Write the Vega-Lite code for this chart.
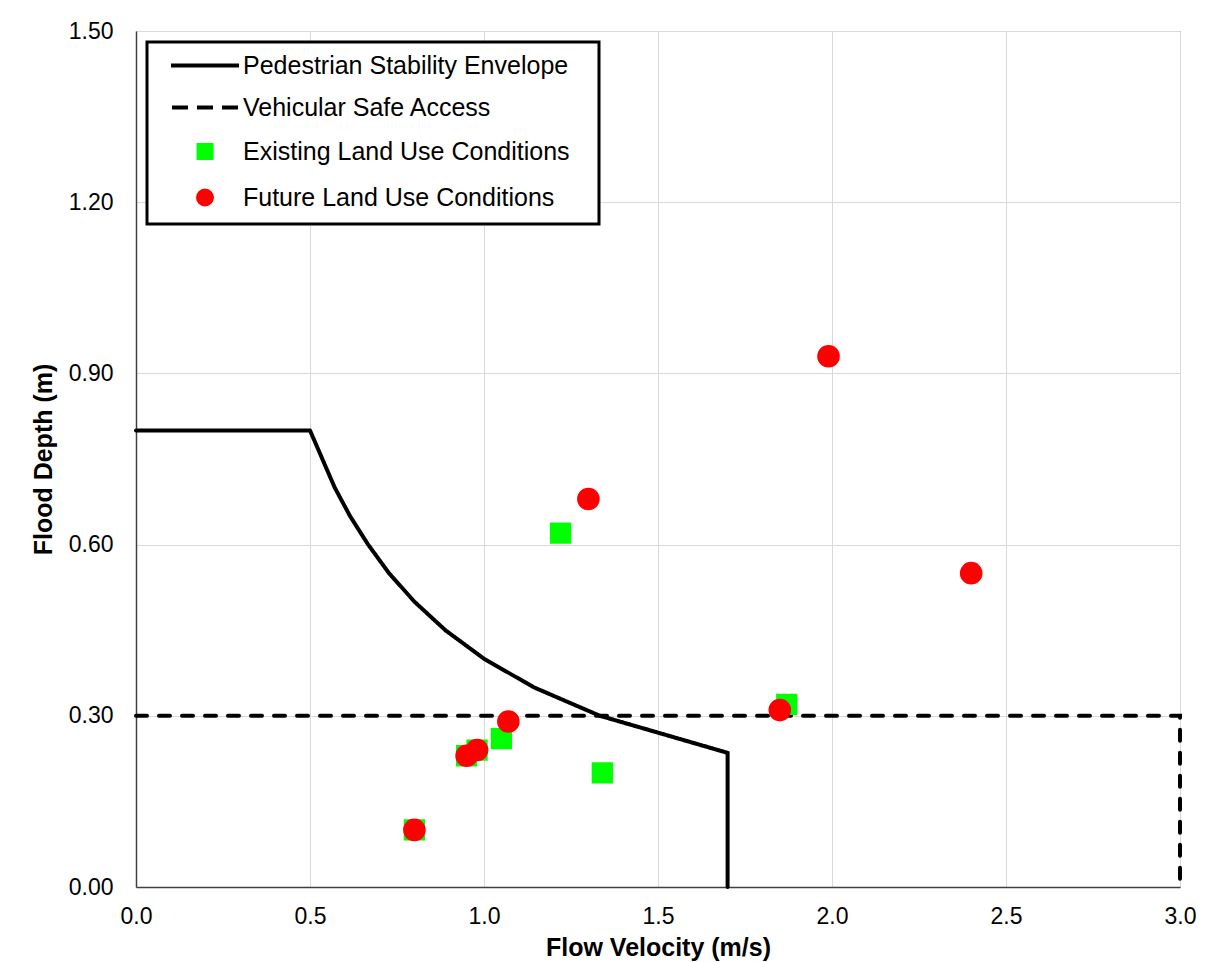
{
  "$schema": "https://vega.github.io/schema/vega-lite/v6.json",
  "width": 1044,
  "height": 856,
  "autosize": {"type": "none"},
  "padding": {"left": 136, "top": 31, "right": 42, "bottom": 75},
  "background": "white",
  "config": {
    "font": "Liberation Sans",
    "view": {"stroke": "#8c8c8c", "strokeWidth": 1},
    "axis": {
      "gridColor": "#d9d9d9",
      "gridWidth": 1,
      "ticks": false,
      "labelFlush": false,
      "labelFont": "Liberation Sans",
      "labelFontSize": 23,
      "labelColor": "black",
      "titleFont": "Liberation Sans",
      "titleFontSize": 25,
      "titleFontWeight": "bold",
      "titleColor": "black",
      "domainColor": "#404040",
      "domainWidth": 1.5
    },
    "legend": {"strokeWidth": 3}
  },
  "datasets": {
    "lines": [
      {"series": "Pedestrian Stability Envelope", "o": 1, "v": 0.0, "d": 0.8},
      {"series": "Pedestrian Stability Envelope", "o": 2, "v": 0.5, "d": 0.8},
      {"series": "Pedestrian Stability Envelope", "o": 3, "v": 0.571, "d": 0.7},
      {"series": "Pedestrian Stability Envelope", "o": 4, "v": 0.615, "d": 0.65},
      {"series": "Pedestrian Stability Envelope", "o": 5, "v": 0.667, "d": 0.6},
      {"series": "Pedestrian Stability Envelope", "o": 6, "v": 0.727, "d": 0.55},
      {"series": "Pedestrian Stability Envelope", "o": 7, "v": 0.8, "d": 0.5},
      {"series": "Pedestrian Stability Envelope", "o": 8, "v": 0.889, "d": 0.45},
      {"series": "Pedestrian Stability Envelope", "o": 9, "v": 1.0, "d": 0.4},
      {"series": "Pedestrian Stability Envelope", "o": 10, "v": 1.143, "d": 0.35},
      {"series": "Pedestrian Stability Envelope", "o": 11, "v": 1.333, "d": 0.3},
      {"series": "Pedestrian Stability Envelope", "o": 12, "v": 1.7, "d": 0.235},
      {"series": "Pedestrian Stability Envelope", "o": 13, "v": 1.7, "d": 0.0},
      {"series": "Vehicular Safe Access", "o": 1, "v": 0.0, "d": 0.3},
      {"series": "Vehicular Safe Access", "o": 2, "v": 3.0, "d": 0.3},
      {"series": "Vehicular Safe Access", "o": 3, "v": 3.0, "d": 0.0}
    ],
    "points": [
      {"series": "Existing Land Use Conditions", "v": 0.80, "d": 0.10},
      {"series": "Existing Land Use Conditions", "v": 0.95, "d": 0.23},
      {"series": "Existing Land Use Conditions", "v": 0.98, "d": 0.24},
      {"series": "Existing Land Use Conditions", "v": 1.05, "d": 0.26},
      {"series": "Existing Land Use Conditions", "v": 1.22, "d": 0.62},
      {"series": "Existing Land Use Conditions", "v": 1.34, "d": 0.20},
      {"series": "Existing Land Use Conditions", "v": 1.87, "d": 0.32},
      {"series": "Future Land Use Conditions", "v": 0.80, "d": 0.10},
      {"series": "Future Land Use Conditions", "v": 0.95, "d": 0.23},
      {"series": "Future Land Use Conditions", "v": 0.98, "d": 0.24},
      {"series": "Future Land Use Conditions", "v": 1.07, "d": 0.29},
      {"series": "Future Land Use Conditions", "v": 1.30, "d": 0.68},
      {"series": "Future Land Use Conditions", "v": 1.85, "d": 0.31},
      {"series": "Future Land Use Conditions", "v": 1.99, "d": 0.93},
      {"series": "Future Land Use Conditions", "v": 2.40, "d": 0.55}
    ]
  },
  "encoding": {
    "x": {
      "field": "v",
      "type": "quantitative",
      "title": "Flow Velocity (m/s)",
      "scale": {"domain": [0, 3], "nice": false, "zero": false},
      "axis": {"values": [0, 0.5, 1, 1.5, 2, 2.5, 3], "format": ".1f", "labelPadding": 18, "titlePadding": 7}
    },
    "y": {
      "field": "d",
      "type": "quantitative",
      "title": "Flood Depth (m)",
      "scale": {"domain": [0, 1.5], "nice": false, "zero": false},
      "axis": {"values": [0, 0.3, 0.6, 0.9, 1.2, 1.5], "format": ".2f", "labelPadding": 23, "titlePadding": 12}
    }
  },
  "layer": [
    {
      "data": {"name": "lines"},
      "mark": {"type": "line", "color": "black", "strokeWidth": 4, "strokeCap": "round", "clip": false},
      "encoding": {
        "strokeDash": {
          "field": "series",
          "type": "nominal",
          "scale": {"domain": ["Pedestrian Stability Envelope", "Vehicular Safe Access"], "range": [[1, 0], [11, 12]]},
          "legend": null
        },
        "order": {"field": "o", "type": "quantitative"}
      }
    },
    {
      "data": {"name": "points"},
      "mark": {"type": "point", "filled": true, "size": 177, "opacity": 1, "strokeWidth": 4},
      "encoding": {
        "color": {
          "field": "series",
          "type": "nominal",
          "scale": {
            "domain": ["Pedestrian Stability Envelope", "Vehicular Safe Access", "Existing Land Use Conditions", "Future Land Use Conditions"],
            "range": ["#000000", "#000000", "#00ff00", "#ff0000"]
          },
          "legend": {
            "orient": "none",
            "legendX": 11,
            "legendY": 11,
            "title": null,
            "labelFont": "Liberation Sans",
            "labelFontSize": 25,
            "labelColor": "black",
            "labelExpr": "datum.label + '\u2800'",
            "labelOffset": 25.5,
            "labelLimit": 700,
            "symbolSize": 100,
            "symbolOffset": 34.5,
            "symbolStrokeWidth": 4,
            "symbolOpacity": 1,
            "padding": 11,
            "rowPadding": 16,
            "strokeColor": "black",
            "fillColor": "white"
          }
        },
        "stroke": {
          "field": "series",
          "type": "nominal",
          "scale": {
            "domain": ["Pedestrian Stability Envelope", "Vehicular Safe Access", "Existing Land Use Conditions", "Future Land Use Conditions"],
            "range": ["#000000", "#000000", "#00ff00", "#ff0000"]
          }
        },
        "shape": {
          "field": "series",
          "type": "nominal",
          "scale": {
            "domain": ["Pedestrian Stability Envelope", "Vehicular Safe Access", "Existing Land Use Conditions", "Future Land Use Conditions"],
            "range": [
              "M-6.8,0H6.8",
              "M-6.6,0H-3.4M-1.6,0H1.6M3.4,0H6.6",
              "M-1.3,-1.3H1.3V1.3H-1.3Z",
              "M-1.4,0A1.4,1.4,0,1,0,1.4,0A1.4,1.4,0,1,0,-1.4,0Z"
            ]
          }
        }
      }
    }
  ]
}
